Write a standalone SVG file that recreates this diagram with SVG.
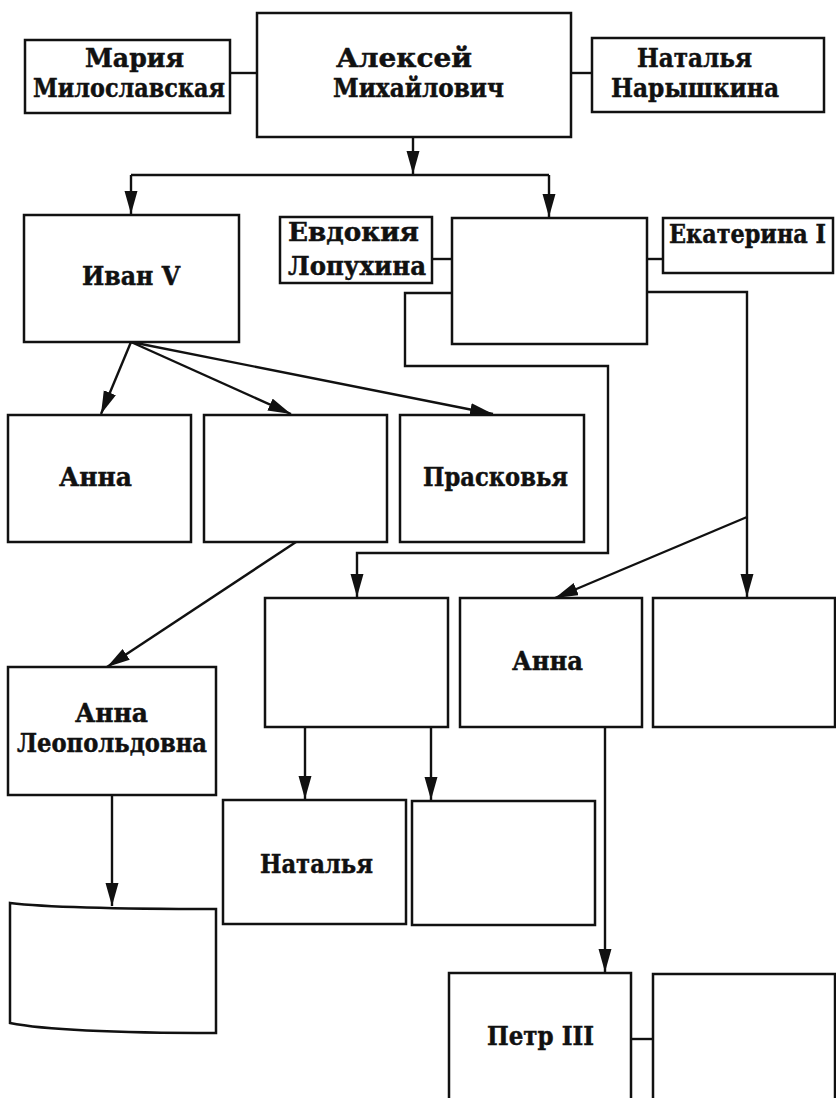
<svg xmlns="http://www.w3.org/2000/svg" width="836" height="1098" viewBox="0 0 836 1098">
<style>
.box{fill:#fff;stroke:#111;stroke-width:2.5}
.ln{fill:none;stroke:#111;stroke-width:2.4}
.t{font-family:"DejaVu Serif","Liberation Serif",serif;font-weight:bold;font-size:26.5px;fill:#111;stroke:#111;stroke-width:0.5}
</style>
<defs>
<marker id="ah" markerUnits="userSpaceOnUse" markerWidth="26" markerHeight="14" refX="23" refY="6.5" orient="auto">
<path d="M0,0 L23,6.5 L0,13 z" fill="#111"/>
</marker>
</defs>
<rect width="836" height="1098" fill="#fff"/>
<g id="connectors">
<line class="ln" x1="230" y1="73" x2="257" y2="73"/>
<line class="ln" x1="571" y1="73" x2="592" y2="73"/>
<line class="ln" x1="413" y1="137" x2="413" y2="174" marker-end="url(#ah)"/>
<line class="ln" x1="131" y1="175" x2="549" y2="175"/>
<line class="ln" x1="131" y1="175" x2="131" y2="214" marker-end="url(#ah)"/>
<line class="ln" x1="549" y1="175" x2="549" y2="217" marker-end="url(#ah)"/>
<line class="ln" x1="432" y1="259" x2="452" y2="259"/>
<line class="ln" x1="647" y1="259" x2="663" y2="259"/>
<path class="ln" d="M452,293 H405 V366 H608 V553 H357 V597" marker-end="url(#ah)"/>
<path class="ln" d="M647,292 H747 V597" marker-end="url(#ah)"/>
<line class="ln" x1="747" y1="517" x2="555" y2="598" marker-end="url(#ah)"/>
<line class="ln" x1="131" y1="342" x2="101" y2="414" marker-end="url(#ah)"/>
<line class="ln" x1="131" y1="342" x2="291" y2="414" marker-end="url(#ah)"/>
<line class="ln" x1="131" y1="342" x2="493" y2="414" marker-end="url(#ah)"/>
<line class="ln" x1="296" y1="542" x2="107" y2="667" marker-end="url(#ah)"/>
<line class="ln" x1="305" y1="727" x2="305" y2="799" marker-end="url(#ah)"/>
<line class="ln" x1="431" y1="727" x2="431" y2="800" marker-end="url(#ah)"/>
<line class="ln" x1="605" y1="727" x2="605" y2="972" marker-end="url(#ah)"/>
<line class="ln" x1="112" y1="795" x2="112" y2="906" marker-end="url(#ah)"/>
<line class="ln" x1="631" y1="1039" x2="653" y2="1039"/>
</g>
<g id="n-maria"><rect class="box" x="25" y="40" width="205" height="73"/>
<text class="t" x="85" y="67" textLength="99" lengthAdjust="spacingAndGlyphs">Мария</text>
<text class="t" x="33" y="97" textLength="192" lengthAdjust="spacingAndGlyphs">Милославская</text></g>
<g id="n-alexey"><rect class="box" x="257" y="13" width="314" height="124"/>
<text class="t" x="336" y="67" textLength="136" lengthAdjust="spacingAndGlyphs">Алексей</text>
<text class="t" x="333" y="97" textLength="171" lengthAdjust="spacingAndGlyphs">Михайлович</text></g>
<g id="n-natalya-n"><rect class="box" x="592" y="38" width="232" height="74"/>
<text class="t" x="637" y="67" textLength="115" lengthAdjust="spacingAndGlyphs">Наталья</text>
<text class="t" x="611" y="97" textLength="168" lengthAdjust="spacingAndGlyphs">Нарышкина</text></g>
<g id="n-ivan"><rect class="box" x="24" y="215" width="215" height="127"/>
<text class="t" x="82" y="285" textLength="98" lengthAdjust="spacingAndGlyphs">Иван V</text></g>
<g id="n-evdokia"><rect class="box" x="280" y="217" width="152" height="66"/>
<text class="t" x="288" y="241" textLength="131" lengthAdjust="spacingAndGlyphs">Евдокия</text>
<text class="t" x="288" y="275" textLength="138" lengthAdjust="spacingAndGlyphs">Лопухина</text></g>
<g id="n-petr1"><rect class="box" x="452" y="218" width="195" height="126"/></g>
<g id="n-ekaterina"><rect class="box" x="663" y="218" width="170" height="55"/>
<text class="t" x="669" y="243" font-size="24" textLength="157" lengthAdjust="spacingAndGlyphs">Екатерина I</text></g>
<g id="n-anna1"><rect class="box" x="8" y="415" width="183" height="127"/>
<text class="t" x="59" y="486" textLength="73" lengthAdjust="spacingAndGlyphs">Анна</text></g>
<g id="n-blank2"><rect class="box" x="204" y="415" width="183" height="127"/></g>
<g id="n-praskovya"><rect class="box" x="400" y="415" width="184" height="127"/>
<text class="t" x="423" y="486" textLength="145" lengthAdjust="spacingAndGlyphs">Прасковья</text></g>
<g id="n-boxA"><rect class="box" x="265" y="598" width="183" height="129"/></g>
<g id="n-anna2"><rect class="box" x="460" y="598" width="182" height="129"/>
<text class="t" x="512" y="670" textLength="71" lengthAdjust="spacingAndGlyphs">Анна</text></g>
<g id="n-blank3"><rect class="box" x="653" y="598" width="182" height="129"/></g>
<g id="n-annaL"><rect class="box" x="8" y="667" width="208" height="128"/>
<text class="t" x="75" y="722" textLength="73" lengthAdjust="spacingAndGlyphs">Анна</text>
<text class="t" x="17" y="752" textLength="190" lengthAdjust="spacingAndGlyphs">Леопольдовна</text></g>
<g id="n-natalya2"><rect class="box" x="223" y="800" width="183" height="124"/>
<text class="t" x="260" y="873" textLength="113" lengthAdjust="spacingAndGlyphs">Наталья</text></g>
<g id="n-blank4"><rect class="box" x="412" y="801" width="183" height="124"/></g>
<g id="n-blank-bl"><path class="box" d="M10,903 Q60,909 216,909 V1033 Q60,1033 10,1023 Z"/></g>
<g id="n-petr3"><rect class="box" x="449" y="973" width="182" height="130"/>
<text class="t" x="487" y="1045" textLength="107" lengthAdjust="spacingAndGlyphs">Петр III</text></g>
<g id="n-blank5"><rect class="box" x="653" y="974" width="182" height="130"/></g>
</svg>
